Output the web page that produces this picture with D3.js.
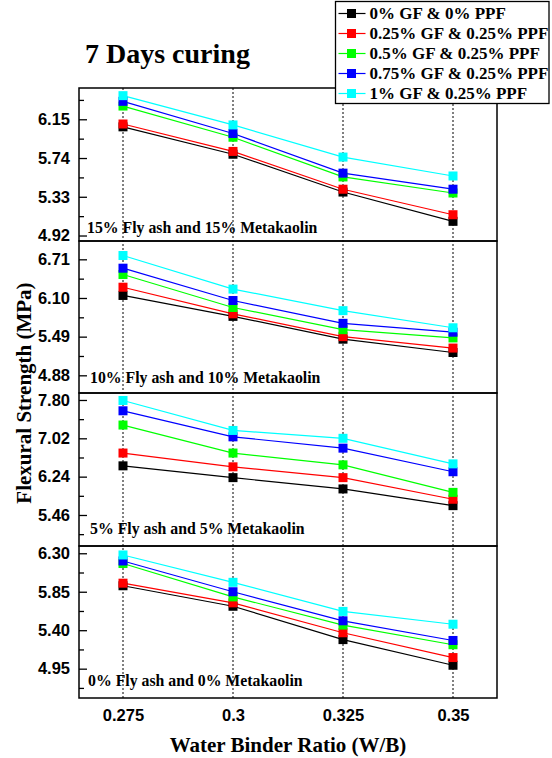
<!DOCTYPE html>
<html>
<head>
<meta charset="utf-8">
<script src="https://cdn.jsdelivr.net/npm/d3@7"></script>
<style>
  body { margin: 0; background: #fff; }
  svg { display: block; font-family: "Liberation Serif", "Times New Roman", serif; font-weight: bold; }
</style>
</head>
<body>
<svg id="chart" width="552" height="758"></svg>
<script>
// W/B ratios on the x axis
const ratios = [0.275, 0.3, 0.325, 0.35];
const ratioLabels = ["0.275", "0.3", "0.325", "0.35"];

const seriesNames = [
  "0% GF & 0% PPF",
  "0.25% GF & 0.25% PPF",
  "0.5% GF & 0.25% PPF",
  "0.75% GF & 0.25% PPF",
  "1% GF & 0.25% PPF"
];
const seriesColors = ["#000000", "#ff0000", "#00ff00", "#0000ff", "#00ffff"];

// flexural strength (MPa), one array per series, panels top to bottom
const fa15 = [
  [6.07, 5.78, 5.38, 5.07],
  [6.10, 5.81, 5.41, 5.14],
  [6.29, 5.96, 5.54, 5.37],
  [6.34, 6.00, 5.58, 5.41],
  [6.40, 6.09, 5.75, 5.55]
];
const fa10 = [
  [6.14, 5.81, 5.45, 5.24],
  [6.27, 5.85, 5.49, 5.31],
  [6.47, 5.95, 5.60, 5.47],
  [6.57, 6.06, 5.70, 5.56],
  [6.77, 6.24, 5.90, 5.63]
];
const fa5 = [
  [6.46, 6.22, 5.99, 5.65],
  [6.72, 6.44, 6.22, 5.78],
  [7.29, 6.72, 6.48, 5.92],
  [7.58, 7.05, 6.82, 6.34],
  [7.79, 7.18, 7.02, 6.50]
];
const fa0 = [
  [5.92, 5.68, 5.29, 4.99],
  [5.95, 5.72, 5.37, 5.08],
  [6.18, 5.79, 5.46, 5.23],
  [6.21, 5.85, 5.51, 5.28],
  [6.28, 5.96, 5.62, 5.47]
];

const panelData = [fa15, fa10, fa5, fa0];
const panelLabels = [
  "15% Fly ash and 15% Metakaolin",
  "10% Fly ash and 10% Metakaolin",
  "5% Fly ash and 5% Metakaolin",
  "0% Fly ash and 0% Metakaolin"
];
const panelTicks = [
  [4.92, 5.33, 5.74, 6.15],
  [4.88, 5.49, 6.10, 6.71],
  [5.46, 6.24, 7.02, 7.80],
  [4.95, 5.40, 5.85, 6.30]
];
const panelMinor = [
  [5.125, 5.535, 5.945, 6.355],
  [5.185, 5.795, 6.405],
  [5.07, 5.85, 6.63, 7.41],
  [4.725, 5.175, 5.625, 6.075]
];
const panelDomains = [
  [4.862, 6.481],
  [4.601, 6.999],
  [4.829, 7.942],
  [4.607, 6.385]
];

// layout
const left = 79, right = 497;
const panelTops = [88, 241, 393, 546];
const panelBottoms = [241, 393, 546, 698];
const labelX = [87, 90, 90, 88];
const labelLift = [8, 10, 12, 12];

const svg = d3.select("#chart");
const x = d3.scaleLinear().domain([0.265, 0.36]).range([left, right]);

// dotted verticals across all panels
svg.append("g")
  .selectAll("line")
  .data(ratios)
  .join("line")
  .attr("x1", d => x(d)).attr("x2", d => x(d))
  .attr("y1", panelTops[0]).attr("y2", panelBottoms[3])
  .attr("stroke", "#000")
  .attr("stroke-width", 1)
  .attr("stroke-dasharray", "2,2");

const line = d3.line();

panelData.forEach((data, p) => {
  const y = d3.scaleLinear().domain(panelDomains[p]).range([panelBottoms[p], panelTops[p]]);
  const g = svg.append("g");

  // major ticks, inward
  g.append("g")
    .attr("transform", `translate(${left},0)`)
    .call(d3.axisLeft(y).tickValues(panelTicks[p]).tickSize(-8).tickPadding(9)
      .tickFormat(d3.format(".2f")))
    .call(a => a.select(".domain").remove())
    .call(a => a.selectAll("line").attr("stroke-width", 1.3))
    .call(a => a.selectAll("text").attr("font-size", 16.5).attr("font-family", null).attr("fill", "#000"));

  // minor ticks
  g.append("g")
    .attr("transform", `translate(${left},0)`)
    .call(d3.axisLeft(y).tickValues(panelMinor[p]).tickSize(-5).tickFormat(""))
    .call(a => a.select(".domain").remove())
    .call(a => a.selectAll("line").attr("stroke-width", 1.3));

  // series lines then markers
  data.forEach((vals, s) => {
    const pts = vals.map((v, i) => [x(ratios[i]), y(v)]);
    g.append("path")
      .attr("d", line(pts))
      .attr("fill", "none")
      .attr("stroke", seriesColors[s])
      .attr("stroke-width", 1.2);
  });
  data.forEach((vals, s) => {
    g.append("g")
      .selectAll("rect")
      .data(vals)
      .join("rect")
      .attr("x", (v, i) => x(ratios[i]) - 4.5)
      .attr("y", v => y(v) - 4.5)
      .attr("width", 9).attr("height", 9)
      .attr("fill", seriesColors[s]);
  });

  g.append("text")
    .attr("x", labelX[p])
    .attr("y", panelBottoms[p] - labelLift[p])
    .attr("font-size", 15.8)
    .text(panelLabels[p]);

  // panel frame
  g.append("rect")
    .attr("x", left).attr("y", panelTops[p])
    .attr("width", right - left).attr("height", panelBottoms[p] - panelTops[p])
    .attr("fill", "none").attr("stroke", "#000").attr("stroke-width", 1.5);
});

// x axis labels
svg.append("g")
  .attr("transform", `translate(0,${panelBottoms[3]})`)
  .call(d3.axisBottom(x).tickValues(ratios).tickSize(0).tickPadding(11)
    .tickFormat((d, i) => ratioLabels[i]))
  .call(a => a.select(".domain").remove())
  .call(a => a.selectAll("text").attr("font-size", 16.5).attr("font-family", null).attr("fill", "#000"));

svg.append("text")
  .attr("x", (left + right) / 2)
  .attr("y", 752)
  .attr("text-anchor", "middle")
  .attr("font-size", 21)
  .text("Water Binder Ratio (W/B)");

svg.append("text")
  .attr("transform", `translate(31,${(panelTops[0] + panelBottoms[3]) / 2}) rotate(-90)`)
  .attr("text-anchor", "middle")
  .attr("font-size", 21)
  .text("Flexural Strength (MPa)");

svg.append("text")
  .attr("x", 85).attr("y", 63)
  .attr("font-size", 28)
  .text("7 Days curing");

// legend
const legend = svg.append("g").attr("transform", "translate(335.5,1.5)");
legend.append("rect")
  .attr("width", 213.5).attr("height", 102)
  .attr("fill", "#fff").attr("stroke", "#000").attr("stroke-width", 1.3);
seriesNames.forEach((name, i) => {
  const row = legend.append("g").attr("transform", `translate(0,${12 + i * 20})`);
  row.append("line")
    .attr("x1", 3).attr("x2", 30)
    .attr("stroke", seriesColors[i]).attr("stroke-width", 1.2);
  row.append("rect")
    .attr("x", 11.5).attr("y", -4.5).attr("width", 9).attr("height", 9)
    .attr("fill", seriesColors[i]);
  row.append("text")
    .attr("x", 34).attr("dy", "0.35em")
    .attr("font-size", 17)
    .text(name);
});
</script>
</body>
</html>
